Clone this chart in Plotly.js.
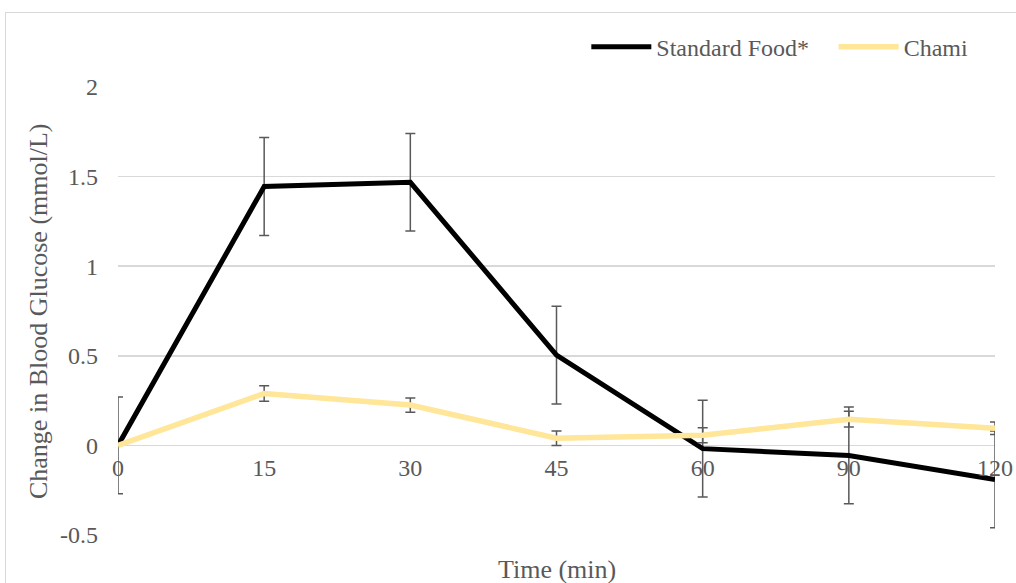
<!DOCTYPE html>
<html>
<head>
<meta charset="utf-8">
<script src="https://cdn.plot.ly/plotly-3.0.1.min.js"></script>
<style>
html,body{margin:0;padding:0;background:#fff;}
#wrap{position:relative;width:1016px;height:583px;overflow:hidden;}
#frame{position:absolute;left:5px;top:12px;width:1040px;height:600px;border:1.5px solid #D9D9D9;box-sizing:border-box;pointer-events:none;}
#chart{position:absolute;left:0;top:0;width:1016px;height:583px;}
</style>
</head>
<body>
<div id="wrap"><div id="chart"></div><div id="frame"></div></div>
<script>
const timeLabels = ["0", "15", "30", "45", "60", "90", "120"];
const standardFood = [0, 1.445, 1.468, 0.504, -0.018, -0.056, -0.19];
const standardErr = [0.27, 0.273, 0.272, 0.273, 0.27, 0.27, 0.27];
const chami = [0, 0.29, 0.225, 0.04, 0.057, 0.146, 0.096];
const chamiErr = [0, 0.043, 0.04, 0.04, 0.042, 0.044, 0.035];

const xpos = timeLabels.map((_, i) => i);
const font = "'Liberation Serif', 'Times New Roman', serif";
const grey = "#595959";

const traces = [
  {
    x: xpos, y: standardFood, name: "Standard Food*", type: "scatter", mode: "lines",
    line: {color: "#000000", width: 5}, legend: "legend",
    error_y: {type: "data", array: standardErr, visible: true, color: grey, thickness: 1.5, width: 5}
  },
  {
    x: xpos, y: chami, name: "Chami", type: "scatter", mode: "lines",
    line: {color: "#FFE699", width: 5.5}, legend: "legend2",
    error_y: {type: "data", array: chamiErr, visible: true, color: grey, thickness: 1.5, width: 5}
  }
];

const legendBase = {
  orientation: "h", xanchor: "left", y: 1.089, yanchor: "middle",
  font: {family: font, size: 24, color: grey}, itemwidth: 60, bgcolor: "rgba(0,0,0,0)"
};

const layout = {
  width: 1016, height: 583,
  margin: {l: 118, r: 21, t: 87, b: 48, autoexpand: false},
  paper_bgcolor: "rgba(0,0,0,0)", plot_bgcolor: "rgba(0,0,0,0)",
  font: {family: font, size: 24, color: grey},
  showlegend: true,
  legend: Object.assign({}, legendBase, {x: 0.534}),
  legend2: Object.assign({}, legendBase, {x: 0.816}),
  xaxis: {
    range: [0, 6], tickmode: "array", tickvals: xpos, ticktext: timeLabels,
    showgrid: false, zeroline: false, showline: false, ticks: "",
    anchor: "free", position: 0.2, ticklabelstandoff: 6,
    tickfont: {family: font, size: 24, color: grey}, fixedrange: true
  },
  yaxis: {
    range: [-0.5, 2], tickvals: [-0.5, 0, 0.5, 1, 1.5, 2],
    ticktext: ["-0.5", "0", "0.5", "1", "1.5", "2"],
    showgrid: true, gridcolor: "#D9D9D9", gridwidth: 1.5,
    zeroline: true, zerolinecolor: "#D9D9D9", zerolinewidth: 1.5,
    showline: false, ticks: "", ticklabelstandoff: 19,
    tickfont: {family: font, size: 24, color: grey}, fixedrange: true
  },
  annotations: [
    {text: "Time (min)", xref: "paper", yref: "paper", x: 0.5, y: -0.078, xanchor: "center", yanchor: "middle",
     showarrow: false, font: {family: font, size: 26, color: grey}},
    {text: "Change in Blood Glucose (mmol/L)", xref: "paper", yref: "paper", x: -0.0912, y: 0.5,
     xanchor: "center", yanchor: "middle", textangle: -90, showarrow: false,
     font: {family: font, size: 26, color: grey}}
  ]
};

Plotly.newPlot("chart", traces, layout, {displayModeBar: false, staticPlot: true});
</script>
</body>
</html>
